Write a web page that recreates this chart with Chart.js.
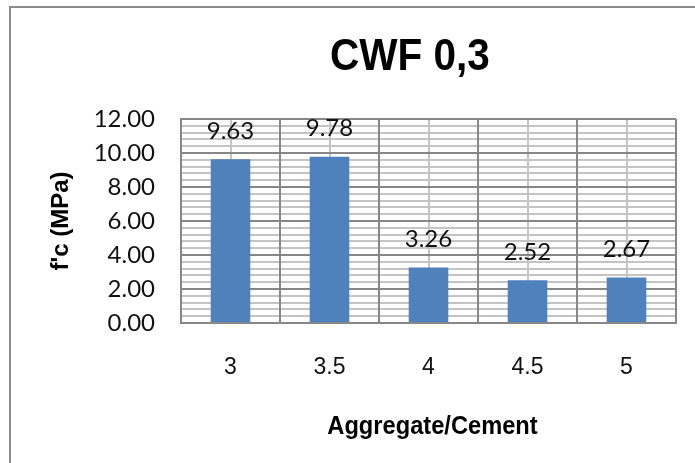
<!DOCTYPE html>
<html><head><meta charset="utf-8">
<script src="https://cdn.jsdelivr.net/npm/chart.js@4.4.1/dist/chart.umd.min.js"></script>
<style>html,body{margin:0;padding:0;background:#fff}#wrap{width:695px;height:463px;position:relative}</style>
</head><body><div id="wrap"><canvas id="c" width="695" height="463"></canvas></div>
<script>
const chartTitle = 'CWF 0,3';
const categories = ['3', '3.5', '4', '4.5', '5'];
const fcValues = [9.63, 9.78, 3.26, 2.52, 2.67];
const yTickLabels = ['0.00', '2.00', '4.00', '6.00', '8.00', '10.00', '12.00'];
const xAxisTitle = 'Aggregate/Cement';
const yAxisTitle = "f'c (MPa)";

const SANS = "'Liberation Sans', Arial, sans-serif";
const MAJOR = '#878787', MINOR = '#c4c4c4';
const isMajor = v => Math.abs(v / 2 - Math.round(v / 2)) < 1e-6;

// draws condensed (narrow) bold text centred at x with the given baseline
function narrowText(ctx, text, x, y, size, squeeze) {
  ctx.save();
  ctx.fillStyle = '#000';
  ctx.font = 'bold ' + size + 'px ' + SANS;
  ctx.textAlign = 'center';
  ctx.textBaseline = 'alphabetic';
  ctx.translate(x, y);
  ctx.scale(squeeze, 1);
  ctx.fillText(text, 0, 0);
  ctx.restore();
}

const framePlugin = {
  id: 'frame',
  beforeDraw(chart) {
    const ctx = chart.ctx;
    ctx.save();
    ctx.fillStyle = '#fff';
    ctx.fillRect(0, 0, chart.width, chart.height);
    ctx.strokeStyle = '#8c8c8c';
    ctx.lineWidth = 2;
    ctx.beginPath();
    ctx.moveTo(10, chart.height + 2);
    ctx.lineTo(10, 7);
    ctx.lineTo(chart.width + 2, 7);
    ctx.stroke();
    ctx.restore();
  },
  afterDraw(chart) {
    const ctx = chart.ctx;
    const area = chart.chartArea;
    narrowText(ctx, chartTitle, 410, 70, 45, 0.9);
    narrowText(ctx, xAxisTitle, (area.left + area.right) / 2 + 4, 434, 26, 0.91);
  }
};

const labelPlugin = {
  id: 'barLabels',
  afterDatasetsDraw(chart) {
    const ctx = chart.ctx;
    const meta = chart.getDatasetMeta(0);
    ctx.save();
    ctx.fillStyle = '#111';
    ctx.font = "24px Lato, sans-serif";
    ctx.textAlign = 'center';
    ctx.textBaseline = 'middle';
    meta.data.forEach((bar, i) => {
      ctx.fillText(fcValues[i].toFixed(2), bar.x, bar.y - 28);
    });
    ctx.restore();
  }
};

new Chart(document.getElementById('c'), {
  type: 'bar',
  data: {
    labels: categories,
    datasets: [{
      data: fcValues,
      backgroundColor: '#4F81BD',
      borderWidth: 0,
      categoryPercentage: 1,
      barPercentage: 0.4
    }]
  },
  plugins: [framePlugin, labelPlugin],
  options: {
    responsive: false,
    animation: false,
    events: [],
    layout: { padding: { left: 0, right: 19, top: 119, bottom: 0 } },
    plugins: { legend: { display: false }, title: { display: false }, tooltip: { enabled: false } },
    scales: {
      x: {
        type: 'category',
        offset: true,
        grid: { offset: true, color: MAJOR, lineWidth: 2, drawTicks: false, z: 1 },
        border: { display: true, color: MAJOR, width: 2, z: 2 },
        ticks: { color: '#111', font: { family: SANS, size: 23 }, padding: 31 },
        title: { display: false },
        afterFit(scale) { scale.height = 140; }
      },
      x2: {
        type: 'category',
        position: 'top',
        offset: true,
        grid: { offset: false, color: MINOR, lineWidth: 2, drawTicks: false },
        border: { display: false },
        ticks: { display: false }
      },
      y: {
        min: 0,
        max: 12,
        grid: {
          color: ctx => isMajor(ctx.tick.value) ? MAJOR : MINOR,
          lineWidth: 2,
          drawTicks: false
        },
        border: { display: true, color: MAJOR, width: 2 },
        ticks: {
          stepSize: 0.4,
          autoSkip: false,
          padding: 26,
          color: '#111',
          font: { family: 'Lato, sans-serif', size: 24 },
          callback: v => isMajor(v) ? yTickLabels[Math.round(v / 2)] : ''
        },
        title: { display: true, text: yAxisTitle, color: '#000',
                 font: { family: SANS, size: 24, weight: 'bold' },
                 padding: { top: 47, bottom: 0 } },
        afterFit(scale) { scale.width = 181; }
      }
    }
  }
});
</script>
</body></html>
